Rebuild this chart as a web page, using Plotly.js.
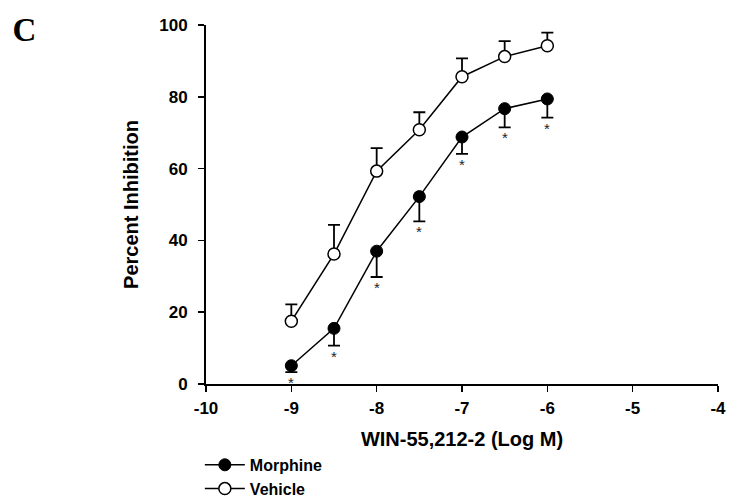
<!DOCTYPE html>
<html>
<head>
<meta charset="utf-8">
<script src="https://cdn.plot.ly/plotly-3.0.1.min.js"></script>
<style>html,body{margin:0;padding:0;background:#fff;}#chart{width:729px;height:500px;}</style>
</head>
<body>
<div id="chart"></div>
<script>
const logDose = [-9, -8.5, -8, -7.5, -7, -6.5, -6];
const morphine = [5.1, 15.5, 37.0, 52.2, 68.8, 76.7, 79.4];
const morphineErr = [1.8, 4.8, 7.2, 6.9, 4.7, 5.2, 5.2];
const vehicle = [17.5, 36.2, 59.3, 70.8, 85.6, 91.2, 94.2];
const vehicleErr = [4.7, 8.1, 6.4, 4.9, 5.1, 4.3, 3.7];
const significant = [true, true, true, true, true, true, true];
const xTicks = [-10, -9, -8, -7, -6, -5, -4];
const yTicks = [0, 20, 40, 60, 80, 100];

const zeros = logDose.map(() => 0);
const FONT = 'Liberation Sans, Arial, sans-serif';

const traces = [
  {
    name: '<b>Morphine</b>', x: logDose, y: morphine, type: 'scatter', mode: 'lines+markers',
    line: {color: '#000', width: 1.5},
    marker: {symbol: 'circle', size: 12, color: '#000', line: {color: '#000', width: 1}},
    error_y: {type: 'data', symmetric: false, array: zeros, arrayminus: morphineErr,
              color: '#000', thickness: 1.8, width: 6},
    cliponaxis: false
  },
  {
    name: '<b>Vehicle</b>', x: logDose, y: vehicle, type: 'scatter', mode: 'lines+markers',
    line: {color: '#000', width: 1.5},
    marker: {symbol: 'circle', size: 12, color: '#fff', line: {color: '#000', width: 1.5}},
    error_y: {type: 'data', symmetric: false, array: vehicleErr, arrayminus: zeros,
              color: '#000', thickness: 1.8, width: 6},
    cliponaxis: false
  }
];

const annotations = [];
logDose.forEach((d, i) => {
  if (significant[i]) {
    annotations.push({
      x: d, y: morphine[i] - morphineErr[i], xref: 'x', yref: 'y',
      text: '*', showarrow: false, yanchor: 'top', yshift: 0,
      font: {family: FONT, size: 15, color: '#222'}
    });
  }
});

const layout = {
  width: 729, height: 500,
  margin: {l: 206, r: 11, t: 25, b: 116, autoexpand: false},
  paper_bgcolor: '#fff', plot_bgcolor: '#fff',
  showlegend: true,
  title: {
    text: '<b>C</b>', xref: 'container', yref: 'container',
    x: 0.017, xanchor: 'left', y: 0.942, yanchor: 'middle',
    font: {family: 'Liberation Serif, Times New Roman, serif', size: 33, color: '#000'}
  },
  legend: {
    x: -0.012, xanchor: 'left', y: -0.178, yanchor: 'top',
    font: {family: FONT, size: 16, color: '#000'},
    bgcolor: 'rgba(0,0,0,0)', tracegroupgap: 0, itemwidth: 40
  },
  xaxis: {
    range: [-10, -4], tickvals: xTicks, ticktext: xTicks.map(String),
    showgrid: false, zeroline: false, showline: true, linecolor: '#000', linewidth: 2,
    ticks: 'outside', ticklen: 6, tickwidth: 1.5, tickcolor: '#000', ticklabelstandoff: 2,
    tickfont: {family: FONT, size: 17, color: '#000', weight: 'bold'},
    title: {text: '<b>WIN-55,212-2 (Log M)</b>', standoff: 15,
            font: {family: FONT, size: 20, color: '#000'}},
    fixedrange: true
  },
  yaxis: {
    range: [0, 100], tickvals: yTicks, ticktext: yTicks.map(String),
    showgrid: false, zeroline: false, showline: true, linecolor: '#000', linewidth: 2,
    ticks: 'outside', ticklen: 6, tickwidth: 1.5, tickcolor: '#000', ticklabelstandoff: 7,
    tickfont: {family: FONT, size: 17, color: '#000', weight: 'bold'},
    title: {text: '<b>Percent Inhibition</b>', standoff: 15,
            font: {family: FONT, size: 20, color: '#000'}},
    fixedrange: true
  },
  annotations: annotations
};

Plotly.newPlot('chart', traces, layout, {displayModeBar: false, staticPlot: true});
</script>
</body>
</html>
